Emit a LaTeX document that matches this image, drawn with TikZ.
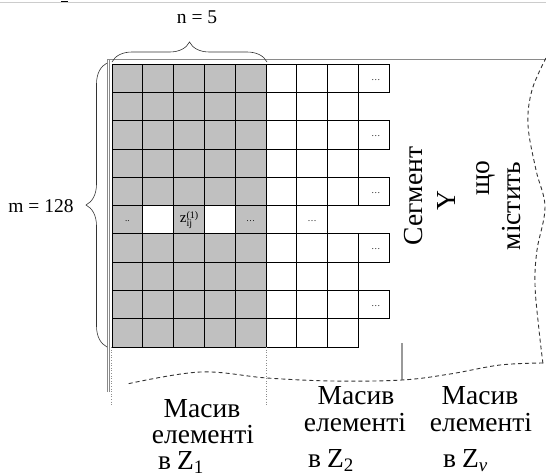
\documentclass[tikz,border=0pt]{standalone}
\usepackage{fontspec}
\setmainfont{Liberation Serif}
\usetikzlibrary{decorations.pathreplacing}

\definecolor{cellgrey}{HTML}{C0C0C0}
\definecolor{framegrey}{HTML}{8A8A8A}
\definecolor{dashgrey}{HTML}{333333}

\newcommand\celldots{\raisebox{-4pt}{\fontsize{9}{9}\selectfont …}}
\newcommand\twodots{\raisebox{-4pt}{\fontsize{9}{9}\selectfont ..}}
\newcommand\zsub[1]{\raisebox{-4pt}{\fontsize{19}{19}\selectfont #1}}

\begin{document}
\begin{tikzpicture}[x=1pt,y=-1pt,
  cellbase/.style={draw=black,line width=0.8pt,minimum width=30.8pt,minimum height=28.3pt,inner sep=0pt,outer sep=0pt},
  gcell/.style={cellbase,fill=cellgrey},
  wcell/.style={cellbase,fill=white},
  brc/.style={decorate,decoration={brace,amplitude=#1},draw=black!80,line width=0.6pt},
  lbl/.style={font=\fontsize{19.5}{22}\selectfont,inner sep=0pt},
  big/.style={font=\fontsize{27.5}{30}\selectfont,inner sep=0pt,anchor=base},
  wavy/.style={draw=dashgrey,line width=0.9pt,dash pattern=on 4pt off 3pt},
]
\useasboundingbox (0,0) rectangle (546,475);

% faint rule along the top edge
\draw[black!20,line width=0.8pt] (0,2) -- (546,2);
\draw[black,line width=1pt] (61,1) -- (68,1);

% outer frame of the matrix area
\draw[framegrey,line width=0.8pt] (546,59) -- (107,59) -- (107,392);
\draw[framegrey,line width=0.6pt] (109.5,59) -- (109.5,392);

% rows of cells (row 6 is drawn separately)
\foreach \r in {1,...,10}{
  \ifnum\r=6\relax\else
    \foreach \c in {1,...,5}
      \node[gcell] (c\r-\c) at ({112+(\c-0.5)*30.8},{64+(\r-0.5)*28.3}) {};
    \foreach \c in {6,7,8}
      \node[wcell] (c\r-\c) at ({112+(\c-0.5)*30.8},{64+(\r-0.5)*28.3}) {};
  \fi
}
\foreach \r in {1,3,5,7,9}
  \node[wcell] (c\r-9) at ({112+8.5*30.8},{64+(\r-0.5)*28.3}) {\hspace{4pt}\celldots};

% row 6: the element z_ij^(1)
\node[gcell] (c6-1) at ({112+0.5*30.8},{64+5.5*28.3}) {\twodots};
\node[wcell] (c6-2) at ({112+1.5*30.8},{64+5.5*28.3}) {};
\node[gcell] (c6-3) at ({112+2.5*30.8},{64+5.5*28.3}) {\fontsize{15}{15}\selectfont z\makebox[0pt][l]{\raisebox{-4pt}{\fontsize{10}{10}\selectfont ij}}\raisebox{4pt}{\fontsize{10}{10}\selectfont(1)}\hspace{5pt}};
\node[wcell] (c6-4) at ({112+3.5*30.8},{64+5.5*28.3}) {};
\node[gcell] (c6-5) at ({112+4.5*30.8},{64+5.5*28.3}) {\celldots};
\node[wcell] (c6-6) at ({112+5.5*30.8},{64+5.5*28.3}) {};
\node[wcell] (c6-7) at ({112+6.5*30.8},{64+5.5*28.3}) {\celldots};

% braces with sizes
\draw[brc=20pt] (112,62) -- (267,62);
\node[lbl] (nlbl) at (197,17) {n = 5};
\draw[brc=21pt] (107,347) -- (107,63);
\node[lbl] (mlbl) at (41,206) {m = 128};

% guide lines under the grid
\draw[black!45,line width=0.6pt,dotted] (111,347) -- (111,405);
\draw[black!45,line width=0.6pt,dotted] (266,347) -- (266,405);
\draw[black!40,line width=1.3pt] (402,343) -- (402,380);

% torn (dashed, wavy) right and bottom edges
\draw[wavy] plot[smooth,tension=0.6] coordinates {(546,58) (532,90) (528,125) (536,170) (545,207) (537,250) (535,285) (539,330) (543,364)};
\draw[wavy] plot[smooth,tension=0.6] coordinates {(543,363) (500,365) (450,374) (402,380) (333,381) (267,378) (200,372) (127,384)};

% segment caption, rotated
\node[big,rotate=90] (s1) at (422,196) {Сегмент};
\node[big,rotate=90] (s2) at (455,201) {Y};
\node[big,rotate=90] (s3) at (489,178) {що};
\node[big,rotate=90] (s4) at (520,206) {містить};

% array captions
\node[big] (a1) at (202,417) {Масив};
\node[big] (a2) at (203,443) {елементі};
\node[big,anchor=base west] (a3) at (158,469) {в\hspace{6pt}Z\zsub{1}};

\node[big] (b1) at (356,404) {Масив};
\node[big] (b2) at (355,431) {елементі};
\node[big,anchor=base west] (b3) at (308,467) {в\hspace{6pt}Z\zsub{2}};

\node[big] (d1) at (480,404) {Масив};
\node[big] (d2) at (481,431) {елементі};
\node[big,anchor=base west] (d3) at (443,467) {в\hspace{6pt}Z\zsub{\itshape ν}};
\end{tikzpicture}
\end{document}
